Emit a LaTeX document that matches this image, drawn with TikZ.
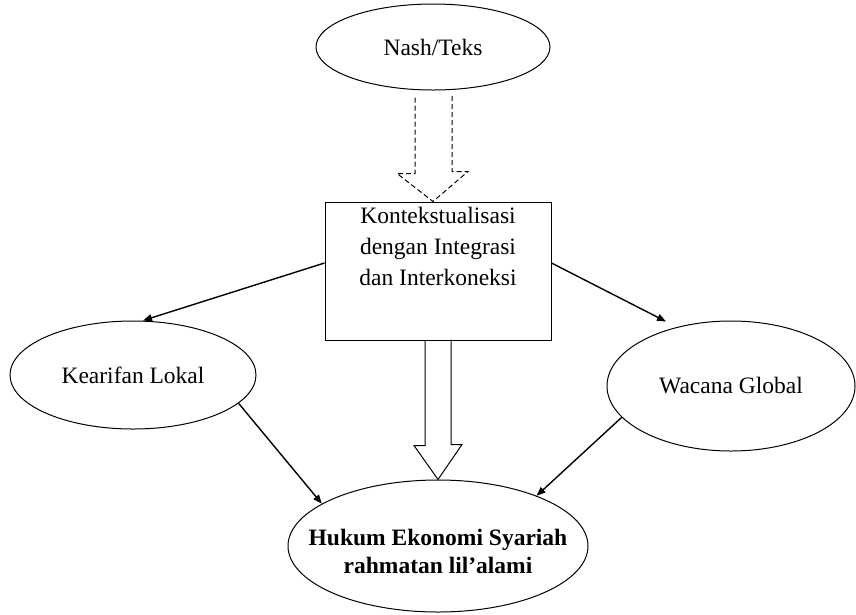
\documentclass[tikz,border=0pt]{standalone}
\usepackage{fontspec}
\setmainfont{Liberation Serif}
\usetikzlibrary{shapes.geometric,arrows.meta,calc}
\begin{document}
\begin{tikzpicture}[x=1pt,y=-1pt,
  oval/.style={draw,ellipse,line width=1pt,inner sep=0pt},
  txt/.style={font=\fontsize{23.5}{31}\selectfont,align=center,inner sep=0pt},
  btxt/.style={font=\fontsize{23.5}{28}\selectfont\bfseries,align=center,inner sep=0pt},
  conn/.style={line width=1.4pt,-{Triangle[length=9pt,width=7pt]}},
  blockarr/.style={line width=1pt}]
\useasboundingbox (0,0) rectangle (856,614);
\node[oval,minimum width=234,minimum height=86,txt] (nash) at (433,47) {Nash/Teks};
\node[draw,line width=1pt,minimum width=226,minimum height=138,inner sep=0pt] (box) at (438,271) {};
\node[txt,anchor=north] (boxtext) at (438,207) {Kontekstualisasi\\dengan Integrasi\\dan Interkoneksi};
\node[oval,minimum width=246,minimum height=108,txt] (kl) at (133,375) {Kearifan Lokal};
\node[oval,minimum width=248,minimum height=130,txt] (wg) at (731,386) {Wacana Global};
\node[oval,minimum width=300,minimum height=132] (hes) at (438,546) {};
\node[btxt] (hestext) at (438,551) {Hukum Ekonomi Syariah\\rahmatan lil’alami};
% dashed block arrow
\draw[blockarr,dashed,dash pattern=on 5pt off 3pt]
  ($(nash.south)+(-18,7)$) -- ++(0,76) -- ++(-18,0) -- (nash.south |- box.north)
  -- ++(35,-30) -- ++(-16,0) -- ++(0,-76);
% solid block arrow
\draw[blockarr]
  ($(hes.north |- box.south)+(-13,0)$) -- ++(0,105) -- ++(-11,0) -- (hes.north)
  -- ++(24,-35) -- ++(-11,0) -- ++(0,-105);
% connectors
\draw[conn] ([yshift=8]box.west) -- ([xshift=10]kl.north);
\draw[conn] ([yshift=8]box.east) -- ([xshift=-65,yshift=-1]wg.north);
\draw[conn] (kl.-15) -- (hes.160);
\draw[conn] (wg.196) -- (hes.27);
\end{tikzpicture}
\end{document}
